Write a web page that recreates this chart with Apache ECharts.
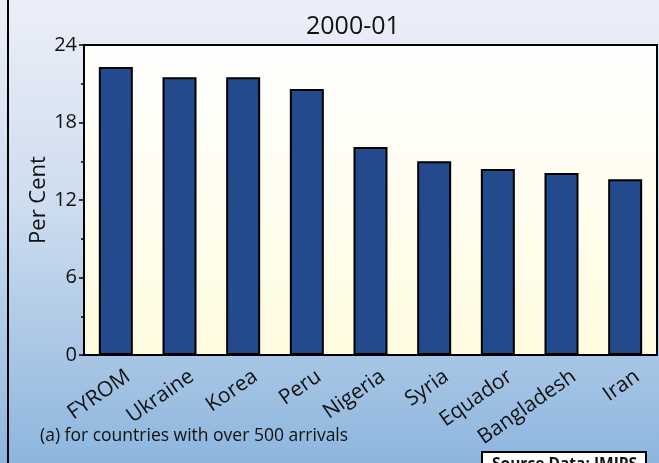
<!DOCTYPE html>
<html>
<head>
<meta charset="utf-8">
<script src="https://cdn.jsdelivr.net/npm/echarts@6/dist/echarts.min.js"></script>
<style>html,body{margin:0;padding:0;}#c{width:659px;height:463px;}</style>
</head>
<body>
<div id="c"></div>
<script>
const categories = ['FYROM','Ukraine','Korea','Peru','Nigeria','Syria','Equador','Bangladesh','Iran'];
const values = [22.3, 21.5, 21.5, 20.6, 16.1, 15.0, 14.4, 14.1, 13.6];
const subtitle = '2000-01';
const yName = 'Per Cent';
const footnote = '(a) for countries with over 500 arrivals';
const source = 'Source Data: IMIPS';
const FONT = '"Open Sans", sans-serif';

const chart = echarts.init(document.getElementById('c'));
chart.setOption({
  animation: false,
  backgroundColor: new echarts.graphic.LinearGradient(0,0,0,1,[
    {offset:0,color:'#eceff8'},{offset:0.45,color:'#cddcef'},{offset:1,color:'#8db6de'}]),
  title: {
    text: subtitle, top: 9, left: 301,
    textStyle: {fontFamily: FONT, fontSize: 25, fontWeight: 'normal', color: '#111'}
  },
  grid: {
    left: 84, right: 2, top: 45, bottom: 108, show: true,
    borderColor: '#000', borderWidth: 2,
    backgroundColor: new echarts.graphic.LinearGradient(0,0,0,1,[
      {offset:0,color:'#ffffff'},{offset:1,color:'#fffbdf'}])
  },
  xAxis: {
    type: 'category', data: categories,
    axisLine: {lineStyle: {color: '#000', width: 2}},
    axisTick: {show: false},
    axisLabel: {rotate: 35, margin: 28, padding: [0, -15, 0, 0], color: '#111',
      fontFamily: FONT, fontSize: 21, interval: 0}
  },
  yAxis: {
    type: 'value', min: 0, max: 24, interval: 6,
    name: yName, nameLocation: 'middle', nameGap: 34, nameMoveOverlap: false,
    nameTextStyle: {fontFamily: FONT, fontSize: 22, color: '#111'},
    axisLine: {show: true, lineStyle: {color: '#000', width: 2}},
    axisTick: {show: true, inside: false, length: 5, lineStyle: {color: '#000', width: 1.5}},
    minorTick: {show: true, splitNumber: 2, length: 3, lineStyle: {color: '#000', width: 1.5}},
    splitLine: {show: false},
    axisLabel: {color: '#111', fontFamily: FONT, fontSize: 20, margin: 7, padding: [8, 0, 0, 0]}
  },
  series: [{
    type: 'bar', data: values, barWidth: 34,
    itemStyle: {color: '#234a8c', borderColor: '#000', borderWidth: 2}
  }],
  graphic: [
    {type: 'line', shape: {x1: 8, y1: 0, x2: 8, y2: 463}, style: {stroke: '#000', lineWidth: 2}},
    {type: 'text', left: 40, top: 427, style: {text: footnote, fontFamily: FONT, fontSize: 17.5, fill: '#111'}},
    {type: 'rect', shape: {x: 482, y: 452, width: 164, height: 30}, style: {fill: '#fff', stroke: '#000', lineWidth: 2}},
    {type: 'text', left: 492, top: 457, style: {text: source, fontFamily: FONT, fontSize: 15.5, fontWeight: 'bold', fill: '#111'}}
  ]
});
</script>
</body>
</html>
